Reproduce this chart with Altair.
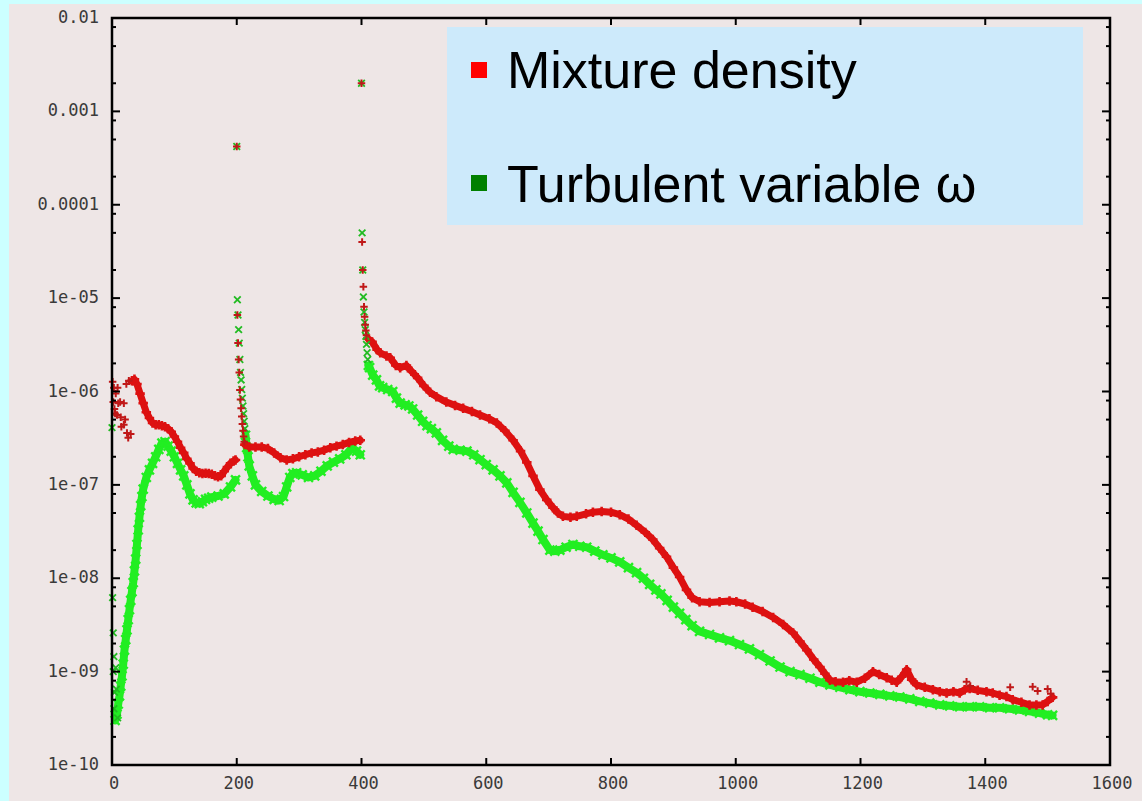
import altair as alt
import pandas as pd

# ---------------------------------------------------------------- layout
W, H = 998, 747                      # plot area (pixels)
PAD = {"left": 112, "top": 18, "right": 32, "bottom": 36}

PAGE_BG = "#ccffff"
PLOT_BG = "#eee6e6"
LEGEND_BG = "#cdeafb"
RED_LINE, GREEN_LINE = "#dd1111", "#22ee22"
RED_MARK, GREEN_MARK = "#c01818", "#22bb22"
LABEL_FONT = "DejaVu Sans Mono"
LABEL_COLOR = "#3a3a3a"

# ---------------------------------------------------------------- axes
X_TICKS = [0, 200, 400, 600, 800, 1000, 1200, 1400, 1600]
Y_TICKS = [1e-10, 1e-9, 1e-8, 1e-7, 1e-6, 1e-5, 1e-4, 1e-3, 1e-2]
Y_TICK_LABELS = ["1e-10", "1e-09", "1e-08", "1e-07", "1e-06", "1e-05",
                 "0.0001", "0.001", "0.01"]
Y_MINOR_MULT = [2, 5, 8]

# ---------------------------------------------------------------- residuals
# Mixture density: continuous parts of the history
RED_A_X = [32, 36, 40, 45, 50, 55, 60, 65, 70, 75, 80, 85, 90, 95, 100, 105,
           110, 115, 120, 125, 130, 135, 140, 145, 150, 155, 160, 165, 170,
           175, 180, 185, 190, 195, 198]
RED_A_V = [1.3e-6, 1.35e-6, 1.2e-6, 9.5e-7, 7.5e-7, 6e-7, 5.2e-7, 4.6e-7,
           4.4e-7, 4.4e-7, 4.3e-7, 4.2e-7, 4.0e-7, 3.7e-7, 3.3e-7, 2.9e-7,
           2.5e-7, 2.2e-7, 1.9e-7, 1.7e-7, 1.5e-7, 1.4e-7, 1.35e-7, 1.32e-7,
           1.33e-7, 1.32e-7, 1.3e-7, 1.25e-7, 1.22e-7, 1.25e-7, 1.4e-7,
           1.55e-7, 1.7e-7, 1.8e-7, 1.85e-7]

RED_B_X = [213, 220, 230, 240, 250, 260, 270, 280, 290, 300, 310, 320, 330,
           340, 350, 360, 370, 380, 390, 398]
RED_B_V = [2.7e-7, 2.55e-7, 2.55e-7, 2.55e-7, 2.45e-7, 2.2e-7, 1.95e-7,
           1.85e-7, 1.9e-7, 2.0e-7, 2.1e-7, 2.2e-7, 2.25e-7, 2.35e-7, 2.5e-7,
           2.6e-7, 2.7e-7, 2.85e-7, 2.95e-7, 3.0e-7]

RED_C_X = [410, 417, 425, 430, 440, 446, 455, 462, 472, 480, 490, 500, 510,
           520, 536, 550, 563, 577, 590, 605, 617, 630, 643, 655, 665, 675,
           686, 697, 707, 715, 723, 735, 745, 760, 771, 785, 800, 814, 828,
           841, 855, 867, 878, 889, 900, 910, 921, 930, 942, 958, 974, 990,
           1001, 1015, 1027, 1043, 1060, 1076, 1092, 1103, 1114, 1125, 1135,
           1143, 1151, 1160, 1172, 1182, 1194, 1207, 1220, 1230, 1242, 1250,
           1258, 1266, 1274, 1282, 1290, 1303, 1316, 1327, 1338, 1349, 1359,
           1367, 1375, 1388, 1402, 1412, 1423, 1434, 1444, 1458, 1471, 1482,
           1492, 1500, 1508]
RED_C_V = [3.7e-6, 3.4e-6, 2.8e-6, 2.6e-6, 2.4e-6, 2.3e-6, 1.9e-6, 1.8e-6,
           1.9e-6, 1.65e-6, 1.4e-6, 1.15e-6, 9.8e-7, 8.8e-7, 7.7e-7, 7.1e-7,
           6.6e-7, 6.1e-7, 5.6e-7, 5.1e-7, 4.6e-7, 3.8e-7, 3.0e-7, 2.3e-7,
           1.74e-7, 1.25e-7, 8.9e-8, 6.9e-8, 5.7e-8, 5.0e-8, 4.6e-8, 4.5e-8,
           4.6e-8, 4.9e-8, 5.1e-8, 5.2e-8, 5.1e-8, 4.8e-8, 4.3e-8, 3.7e-8,
           3.1e-8, 2.6e-8, 2.1e-8, 1.7e-8, 1.3e-8, 1.03e-8, 7.5e-9, 6.2e-9,
           5.6e-9, 5.5e-9, 5.6e-9, 5.7e-9, 5.6e-9, 5.3e-9, 4.9e-9, 4.4e-9,
           3.8e-9, 3.2e-9, 2.6e-9, 2.1e-9, 1.7e-9, 1.35e-9, 1.12e-9, 9.5e-10,
           8.1e-10, 7.8e-10, 7.7e-10, 8.0e-10, 7.7e-10, 8.5e-10, 1.0e-9,
           9.3e-10, 8.6e-10, 8.1e-10, 7.7e-10, 8.8e-10, 1.05e-9, 8.2e-10,
           7.2e-10, 6.8e-10, 6.4e-10, 6.1e-10, 5.9e-10, 6.1e-10, 5.9e-10,
           6.4e-10, 6.6e-10, 6.3e-10, 6.1e-10, 5.9e-10, 5.6e-10, 5.4e-10,
           5.0e-10, 4.7e-10, 4.4e-10, 4.4e-10, 4.4e-10, 4.8e-10, 5.3e-10]

# Mixture density: isolated samples (start-up, restarts at 200/400, tail)
RED_PTS_X = [1, 3, 6, 9, 2, 4, 10, 13, 19, 5, 8, 14, 19, 21, 15, 24, 26, 30,
             23, 27,
             200, 201, 202, 203, 204, 205, 206, 207, 208, 209, 210, 211, 212,
             400, 401, 402, 403, 404, 405, 406, 407, 408,
             1370, 1376, 1440, 1476, 1484, 1500, 1505]
RED_PTS_V = [1.27e-6, 1.1e-6, 9.5e-7, 1.1e-6, 7.7e-7, 6.5e-7, 7.5e-7, 7.7e-7,
             7.5e-7, 5.8e-7, 5.6e-7, 5.3e-7, 4.4e-7, 5.0e-7, 4.2e-7, 3.6e-7,
             3.2e-7, 3.5e-7, 1.2e-6, 1.3e-6,
             4.2e-4, 6.6e-6, 3.3e-6, 2.2e-6, 1.6e-6, 1.04e-6, 8.2e-7, 6.6e-7,
             5.4e-7, 4.5e-7, 3.8e-7, 3.3e-7, 2.9e-7,
             2.0e-3, 4.0e-5, 2.0e-5, 1.32e-5, 8.1e-6, 6.3e-6, 5.2e-6, 4.5e-6,
             4.0e-6,
             7.8e-10, 7.0e-10, 6.8e-10, 6.9e-10, 6.2e-10, 6.5e-10, 5.8e-10]

# Turbulent variable omega: continuous parts of the history
GREEN_A_X = [5, 8, 10, 12, 14, 16, 18, 20, 22, 24, 26, 28, 30, 32, 34, 36, 38,
             40, 42, 44, 46, 48, 50, 55, 60, 65, 70, 75, 80, 85, 90, 95, 100,
             105, 110, 115, 120, 125, 130, 135, 140, 145, 150, 155, 160, 170,
             180, 190, 198]
GREEN_A_V = [3e-10, 3.5e-10, 4.5e-10, 5.5e-10, 7e-10, 9e-10, 1.2e-9, 1.7e-9,
             2.2e-9, 2.8e-9, 3.6e-9, 4.6e-9, 5.8e-9, 7.2e-9, 9e-9, 1.2e-8,
             1.6e-8, 2.3e-8, 3.3e-8, 4.5e-8, 6e-8, 7.5e-8, 9e-8, 1.2e-7,
             1.45e-7, 1.7e-7, 2.0e-7, 2.4e-7, 2.8e-7, 2.9e-7, 2.6e-7, 2.3e-7,
             2.0e-7, 1.7e-7, 1.45e-7, 1.25e-7, 1.0e-7, 8e-8, 6.9e-8, 6.4e-8,
             6.3e-8, 6.6e-8, 7e-8, 7.2e-8, 7.4e-8, 7.6e-8, 8.0e-8, 9.5e-8,
             1.13e-7]

GREEN_B_X = [214, 216, 218, 220, 225, 230, 240, 250, 260, 268, 275, 280, 285,
             290, 296, 305, 315, 325, 335, 345, 355, 365, 375, 385, 392, 398]
GREEN_B_V = [3.4e-7, 2.5e-7, 2.0e-7, 1.6e-7, 1.25e-7, 1.0e-7, 8.5e-8, 7.6e-8,
             7.0e-8, 6.8e-8, 7.5e-8, 9.5e-8, 1.2e-7, 1.32e-7, 1.35e-7,
             1.28e-7, 1.2e-7, 1.25e-7, 1.4e-7, 1.6e-7, 1.75e-7, 1.9e-7,
             2.1e-7, 2.5e-7, 2.3e-7, 2.1e-7]

GREEN_C_X = [411, 413, 418, 424, 429, 434, 442, 450, 456, 462, 470, 476, 482,
             490, 498, 505, 512, 520, 530, 540, 547, 558, 569, 580, 590, 600,
             611, 622, 633, 643, 654, 665, 675, 683, 691, 702, 710, 718, 728,
             739, 750, 761, 774, 787, 800, 814, 828, 841, 852, 862, 872, 880,
             890, 900, 910, 920, 930, 942, 958, 974, 990, 1006, 1022, 1038,
             1055, 1071, 1087, 1103, 1119, 1135, 1151, 1167, 1183, 1199, 1215,
             1231, 1247, 1263, 1279, 1295, 1311, 1327, 1343, 1359, 1375, 1391,
             1407, 1423, 1439, 1455, 1471, 1487, 1500, 1508]
GREEN_C_V = [1.9e-6, 1.8e-6, 1.5e-6, 1.33e-6, 1.15e-6, 1.1e-6, 1.05e-6,
             1.0e-6, 8.5e-7, 7.5e-7, 7.2e-7, 7.0e-7, 6.5e-7, 5.6e-7, 4.8e-7,
             4.3e-7, 4.0e-7, 3.6e-7, 3.0e-7, 2.6e-7, 2.4e-7, 2.35e-7, 2.3e-7,
             2.1e-7, 1.86e-7, 1.65e-7, 1.45e-7, 1.25e-7, 1.05e-7, 8.3e-8,
             6.5e-8, 5.0e-8, 3.9e-8, 3.2e-8, 2.6e-8, 2.0e-8, 1.95e-8, 2.0e-8,
             2.15e-8, 2.3e-8, 2.2e-8, 2.15e-8, 1.95e-8, 1.78e-8, 1.65e-8,
             1.5e-8, 1.3e-8, 1.15e-8, 1.0e-8, 8.6e-9, 7.5e-9, 6.8e-9, 5.8e-9,
             4.9e-9, 4.2e-9, 3.6e-9, 3.1e-9, 2.7e-9, 2.5e-9, 2.3e-9, 2.15e-9,
             1.95e-9, 1.75e-9, 1.52e-9, 1.3e-9, 1.12e-9, 1.0e-9, 9.3e-10,
             8.5e-10, 7.7e-10, 7.2e-10, 6.8e-10, 6.4e-10, 6.1e-10, 5.9e-10,
             5.7e-10, 5.5e-10, 5.35e-10, 5.1e-10, 4.8e-10, 4.6e-10, 4.4e-10,
             4.3e-10, 4.2e-10, 4.2e-10, 4.2e-10, 4.1e-10, 4.1e-10, 4.0e-10,
             3.9e-10, 3.75e-10, 3.6e-10, 3.45e-10, 3.4e-10]

# Turbulent variable omega: isolated samples
GREEN_PTS_X = [0, 1, 2, 3, 2, 4, 3, 6, 7, 9,
               200, 201, 202, 203, 204, 205, 206, 207, 208, 209, 210, 211,
               212, 213,
               400, 401, 402, 403, 404, 405, 406, 407, 408, 409, 410]
GREEN_PTS_V = [4.1e-7, 6.2e-9, 2.6e-9, 1.45e-9, 1.0e-9, 6e-10, 4e-10, 1.1e-9,
               6.5e-10, 3.2e-10,
               4.2e-4, 9.6e-6, 6.6e-6, 4.6e-6, 3.3e-6, 2.2e-6, 1.6e-6,
               1.33e-6, 1.05e-6, 8.5e-7, 7e-7, 5.8e-7, 4.8e-7, 4.0e-7,
               2.0e-3, 5.0e-5, 2.0e-5, 1.03e-5, 7.1e-6, 5.5e-6, 4.6e-6,
               3.9e-6, 3.2e-6, 2.6e-6, 2.2e-6]

LEGEND_LABELS = ["Mixture density", "Turbulent variable \u03c9"]
LEGEND_SWATCH = ["#ff0000", "#008000"]


def segments(parts):
    rows = []
    for seg, (xs, vs) in enumerate(parts):
        rows += [{"it": x, "v": v, "seg": seg} for x, v in zip(xs, vs)]
    return pd.DataFrame(rows)


red_lines = segments([(RED_A_X, RED_A_V), (RED_B_X, RED_B_V), (RED_C_X, RED_C_V)])
green_lines = segments([(GREEN_A_X, GREEN_A_V), (GREEN_B_X, GREEN_B_V),
                        (GREEN_C_X, GREEN_C_V)])
red_pts = pd.DataFrame({"it": RED_PTS_X, "v": RED_PTS_V})
green_pts = pd.DataFrame({"it": GREEN_PTS_X, "v": GREEN_PTS_V})

x_scale = alt.Scale(domain=[0, 1600], nice=False, zero=False)
y_scale = alt.Scale(type="log", domain=[1e-10, 1e-2], nice=False)

X = alt.X("it:Q", scale=x_scale, axis=None)
Y = alt.Y("v:Q", scale=y_scale, axis=None)

one = pd.DataFrame({"k": [0]})

# pinkish canvas behind the plot
canvas = alt.Chart(one).mark_rect(color=PLOT_BG).encode(
    x=alt.value(-103), x2=alt.value(W + 32), y=alt.value(-14),
    y2=alt.value(H + 36))

# tick labels, placed through the same scales as the data
x_lab = alt.Chart(pd.DataFrame({"it": X_TICKS,
                                "t": [str(t) for t in X_TICKS]})).mark_text(
    font=LABEL_FONT, fontSize=17, color=LABEL_COLOR, align="center",
    baseline="top", dx=2).encode(x=X, y=alt.value(H + 11), text="t:N")
y_lab = alt.Chart(pd.DataFrame({"v": Y_TICKS, "t": Y_TICK_LABELS})).mark_text(
    font=LABEL_FONT, fontSize=17, color=LABEL_COLOR, align="right",
    baseline="middle").encode(y=Y, x=alt.value(-13), text="t:N")

PLUS = "M-1,0L1,0M0,-1L0,1"
CROSS = "M-1,-1L1,1M1,-1L-1,1"

# residual histories: a thick stroke with point symbols along it
green_line = alt.Chart(green_lines).mark_line(
    color=GREEN_LINE, strokeWidth=8, strokeJoin="round", strokeCap="round"
).encode(x=X, y=Y, detail="seg:N", order="it:Q")
green_body = alt.Chart(green_lines).mark_point(
    shape=CROSS, filled=False, color=GREEN_LINE, size=80, strokeWidth=2.4,
    opacity=1).encode(x=X, y=Y)
red_line = alt.Chart(red_lines).mark_line(
    color=RED_LINE, strokeWidth=7, strokeJoin="round", strokeCap="round"
).encode(x=X, y=Y, detail="seg:N", order="it:Q")
red_body = alt.Chart(red_lines).mark_point(
    shape=PLUS, filled=False, color=RED_LINE, size=90, strokeWidth=2.6,
    opacity=1).encode(x=X, y=Y)

green_mark = alt.Chart(green_pts).mark_point(
    shape=CROSS, filled=False, color=GREEN_MARK, size=44, strokeWidth=1.8,
    opacity=1).encode(x=X, y=Y)
red_mark = alt.Chart(red_pts).mark_point(
    shape=PLUS, filled=False, color=RED_MARK, size=56, strokeWidth=2,
    opacity=1).encode(x=X, y=Y)

# inward tick marks on all four sides
xt = pd.DataFrame({"it": X_TICKS[1:-1]})
yt = pd.DataFrame({"v": Y_TICKS[1:-1]})
ym = pd.DataFrame({"v": [m * t for t in Y_TICKS[:-1] for m in Y_MINOR_MULT]})
tick = dict(color="black", strokeWidth=2)
ticks = [
    alt.Chart(xt).mark_rule(**tick).encode(x=X, y=alt.value(H), y2=alt.value(H - 7)),
    alt.Chart(xt).mark_rule(**tick).encode(x=X, y=alt.value(0), y2=alt.value(7)),
    alt.Chart(yt).mark_rule(**tick).encode(y=Y, x=alt.value(0), x2=alt.value(8)),
    alt.Chart(yt).mark_rule(**tick).encode(y=Y, x=alt.value(W), x2=alt.value(W - 8)),
    alt.Chart(ym).mark_rule(**tick).encode(y=Y, x=alt.value(0), x2=alt.value(4)),
    alt.Chart(ym).mark_rule(**tick).encode(y=Y, x=alt.value(W), x2=alt.value(W - 4)),
]

frame = alt.Chart(one).mark_rect(
    fill="transparent", stroke="black", strokeWidth=2.5).encode(
    x=alt.value(0), x2=alt.value(W), y=alt.value(0), y2=alt.value(H))

# legend panel
legend_box = alt.Chart(one).mark_rect(color=LEGEND_BG).encode(
    x=alt.value(335), x2=alt.value(971), y=alt.value(9), y2=alt.value(207))
legend_sq = [
    alt.Chart(one).mark_rect(color=LEGEND_SWATCH[i]).encode(
        x=alt.value(359), x2=alt.value(375),
        y=alt.value(44 + 113 * i), y2=alt.value(60 + 113 * i))
    for i in range(2)
]
legend_txt = [
    alt.Chart(one).mark_text(
        text=LEGEND_LABELS[i], align="left", baseline="alphabetic",
        font="Liberation Sans", fontSize=52, color="black").encode(
        x=alt.value(395), y=alt.value(70 + 114 * i))
    for i in range(2)
]

chart = alt.layer(
    canvas, green_line, green_body, red_line, red_body, green_mark, red_mark,
    *ticks, frame, x_lab, y_lab, legend_box, *legend_sq, *legend_txt
).properties(
    width=W, height=H, padding=PAD,
    autosize=alt.AutoSizeParams(type="none"),
    background=PAGE_BG,
).configure_view(stroke=None)

chart.save("out.html", embed_options={"renderer": "svg", "actions": False})
